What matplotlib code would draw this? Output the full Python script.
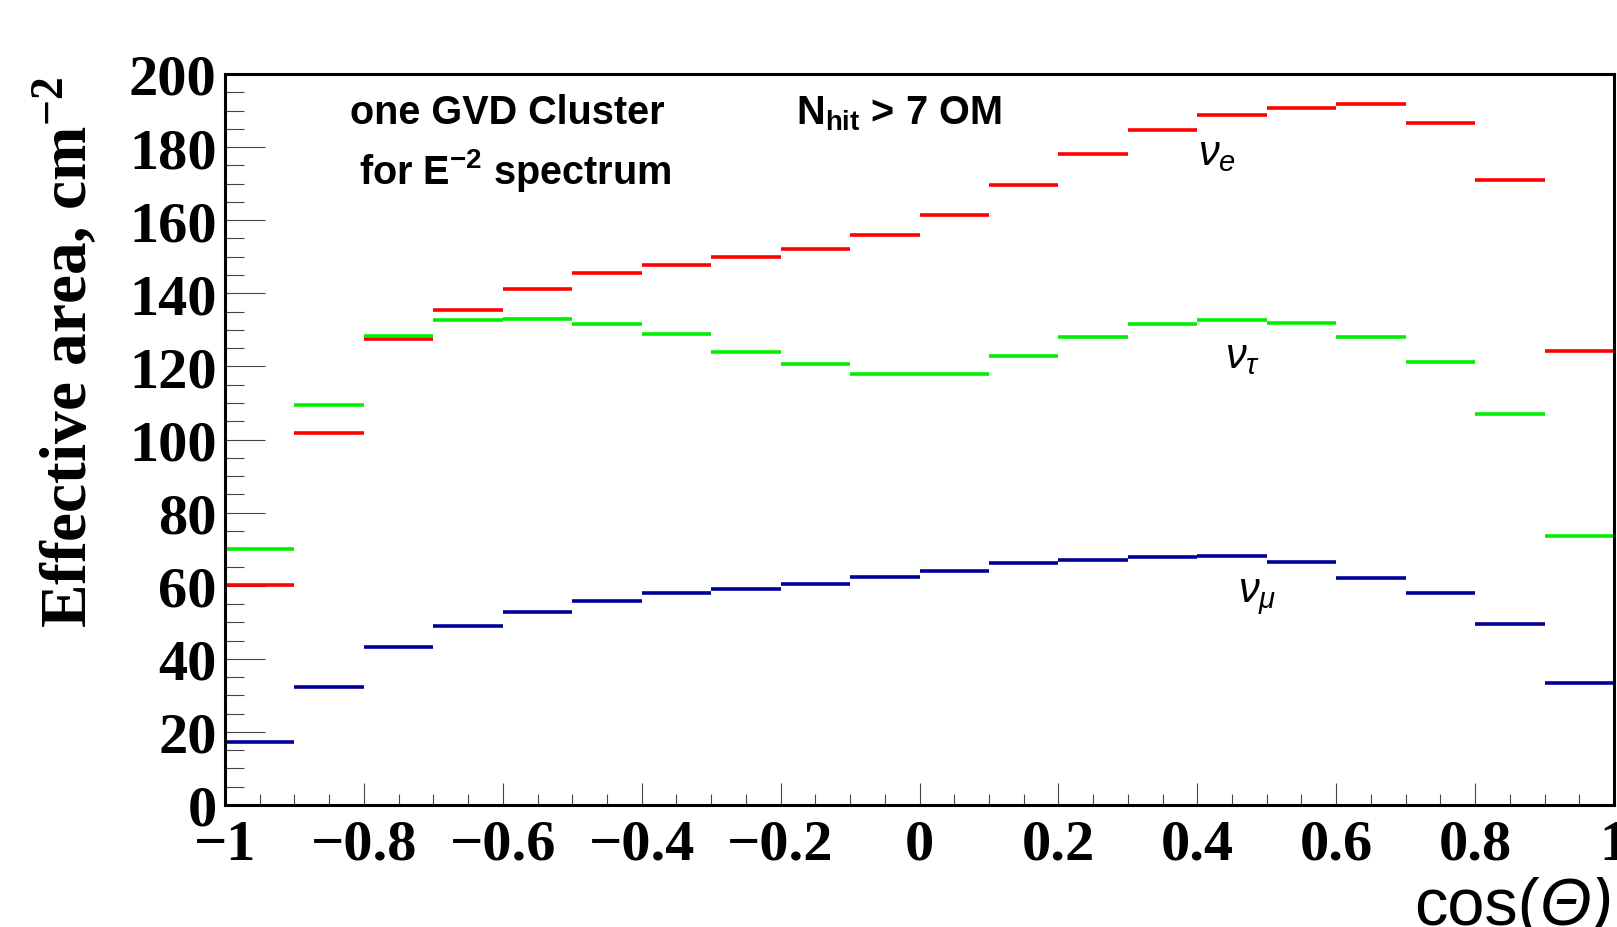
import matplotlib
matplotlib.use("Agg")
import matplotlib.pyplot as plt
from matplotlib.ticker import MultipleLocator

# cos(theta) bin edges, 20 bins
bin_edges = [-1.0, -0.9, -0.8, -0.7, -0.6, -0.5, -0.4, -0.3, -0.2, -0.1, 0.0,
             0.1, 0.2, 0.3, 0.4, 0.5, 0.6, 0.7, 0.8, 0.9, 1.0]

# effective area per bin, cm^-2
nu_e = [60.2, 101.7, 127.6, 135.5, 141.3, 145.6, 147.7, 149.8, 152.0, 156.0,
        161.5, 169.7, 178.2, 184.6, 188.8, 190.7, 191.8, 186.5, 171.1, 124.3]
nu_tau = [70.1, 109.4, 128.2, 132.6, 133.1, 131.7, 128.8, 124.0, 120.6, 117.9,
          117.9, 122.9, 128.0, 131.5, 132.6, 131.9, 128.0, 121.1, 107.0, 73.7]
nu_mu = [17.3, 32.4, 43.2, 48.9, 52.8, 55.8, 58.1, 59.2, 60.5, 62.4,
         64.0, 66.2, 67.0, 67.8, 68.1, 66.4, 62.2, 58.1, 49.4, 33.5]

x_ticks = [-1.0, -0.8, -0.6, -0.4, -0.2, 0.0, 0.2, 0.4, 0.6, 0.8, 1.0]
x_tick_labels = ["\u22121", "\u22120.8", "\u22120.6", "\u22120.4", "\u22120.2",
                 "0", "0.2", "0.4", "0.6", "0.8", "1"]
y_ticks = [0, 20, 40, 60, 80, 100, 120, 140, 160, 180, 200]

plt.rcParams["mathtext.fontset"] = "custom"
plt.rcParams["mathtext.rm"] = "Liberation Sans"
plt.rcParams["mathtext.it"] = "Liberation Sans:italic"
plt.rcParams["mathtext.bf"] = "Liberation Serif:bold"
plt.rcParams["mathtext.sf"] = "Liberation Sans:bold"

fig = plt.figure(figsize=(16.17, 9.28), dpi=100)
ax = fig.add_axes([225 / 1617, 1 - 806 / 928, 1389 / 1617, 731 / 928])

lo = bin_edges[:-1]
hi = bin_edges[1:]
ax.hlines(nu_e, lo, hi, color="#ff0000", lw=2.6, capstyle="butt")
ax.hlines(nu_tau, lo, hi, color="#00ee00", lw=2.6, capstyle="butt")
ax.hlines(nu_mu, lo, hi, color="#000099", lw=2.6, capstyle="butt")

ax.set_xlim(-1, 1)
ax.set_ylim(0, 200)

for s in ax.spines.values():
    s.set_linewidth(2.2)

ax.set_xticks(x_ticks)
ax.set_xticklabels(x_tick_labels)
ax.set_yticks(y_ticks)
ax.xaxis.set_minor_locator(MultipleLocator(0.05))
ax.yaxis.set_minor_locator(MultipleLocator(5))
ax.tick_params(axis="y", which="major", direction="in", length=29, width=0.8,
               color="#444444", pad=6)
ax.tick_params(axis="y", which="minor", direction="in", length=14, width=0.8,
               color="#444444")
ax.tick_params(axis="x", which="major", direction="in", length=16, width=0.8,
               color="#444444", pad=10)
ax.tick_params(axis="x", which="minor", direction="in", length=8, width=0.8,
               color="#444444")
for lab in ax.get_xticklabels() + ax.get_yticklabels():
    lab.set_fontfamily("Liberation Serif")
    lab.set_fontweight("bold")
    lab.set_fontsize(42)

fig.text(67 / 1617, 1 - 77 / 928, "Effective area, cm$^{\\mathbf{-2}}$",
         rotation=90, ha="center", va="top", fontsize=47,
         family="Liberation Serif", weight="bold")

sans = dict(family="Liberation Sans", weight="bold", fontsize=28.5)
ax.text(-0.594, 186.5, "one GVD Cluster", ha="center", va="baseline", **sans)
ax.text(-0.582, 170.2, "for E$^{\\mathsf{-2}}$ spectrum", ha="center",
        va="baseline", **sans)
ax.text(-0.178, 186.5, "N$_{\\mathsf{hit}}$ > 7 OM", ha="left",
        va="baseline", **sans)

ax.text(0.401, 175.4, "$\\nu_e$", fontsize=30, va="baseline")
ax.text(0.440, 119.8, "$\\nu_\\tau$", fontsize=30, va="baseline")
ax.text(0.458, 55.6, "$\\nu_\\mu$", fontsize=30, va="baseline")

t1 = fig.text(1414 / 1617, 1 - 877 / 928, "cos(", ha="left", va="top",
              family="Liberation Sans", fontsize=48)
ax.annotate("\u0398)", xy=(1, 0), xycoords=t1, ha="left", va="bottom",
            family="Liberation Sans", fontsize=48, style="italic")

fig.savefig("out.png", dpi=100)
